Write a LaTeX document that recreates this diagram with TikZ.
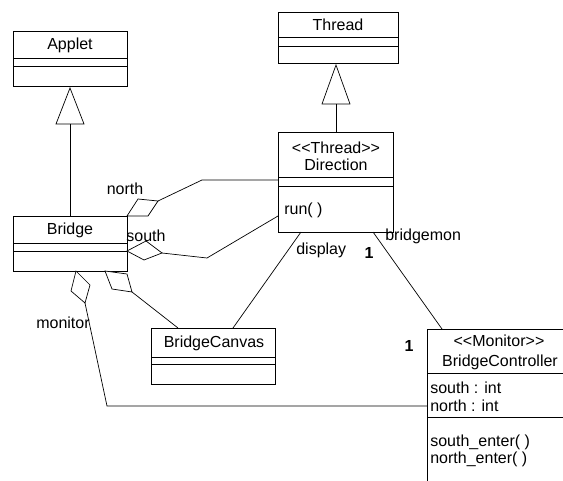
\documentclass[tikz,border=0pt]{standalone}
\usepackage{fontspec}
\setmainfont{Liberation Sans}
\begin{document}
\begin{tikzpicture}[x=1pt,y=-1pt, line width=0.7pt,
  box/.style={draw, rectangle, inner sep=0pt, outer sep=0pt, anchor=north west},
  txt/.style={inner sep=0pt, font=\fontsize{16}{18}\selectfont},
  ltxt/.style={txt, anchor=west},
  mult/.style={txt, font=\fontsize{16}{18}\selectfont\bfseries},
  conn/.style={draw, line join=miter},
  diam/.style={draw, fill=white, line join=miter},
  gen/.style={draw, fill=white, line join=miter}]
\useasboundingbox (0,0) rectangle (563,481);

% ---- class boxes ----
\node[box, minimum width=114pt, minimum height=55pt] (applet) at (13,31) {};
\draw (applet.west |- 0,58) -- (applet.east |- 0,58);
\draw (applet.west |- 0,66) -- (applet.east |- 0,66);
\node[txt] (appletname) at (70,45) {Applet};

\node[box, minimum width=120pt, minimum height=51pt] (thread) at (278,12) {};
\draw (thread.west |- 0,37) -- (thread.east |- 0,37);
\draw (thread.west |- 0,46) -- (thread.east |- 0,46);
\node[txt] (threadname) at (338,25) {Thread};

\node[box, minimum width=115pt, minimum height=100pt] (direction) at (278,132) {};
\draw (direction.west |- 0,177) -- (direction.east |- 0,177);
\draw (direction.west |- 0,186) -- (direction.east |- 0,186);
\node[txt] (dirster) at (336,148) {<{}<Thread>{}>};
\node[txt] (dirname) at (336,165) {Direction};
\node[ltxt] (dirrun) at (284,210) {run( )};

\node[box, minimum width=114pt, minimum height=55pt] (bridge) at (13,216) {};
\draw (bridge.west |- 0,243) -- (bridge.east |- 0,243);
\draw (bridge.west |- 0,251) -- (bridge.east |- 0,251);
\node[txt] (bridgename) at (70,230) {Bridge};

\node[box, minimum width=124pt, minimum height=56pt] (canvas) at (151,328) {};
\draw (canvas.west |- 0,357) -- (canvas.east |- 0,357);
\draw (canvas.west |- 0,364) -- (canvas.east |- 0,364);
\node[txt] (canvasname) at (214,343) {BridgeCanvas};

\node[box, minimum width=146pt, minimum height=200pt] (ctrl) at (427,329) {};
\draw (ctrl.west |- 0,373) -- (ctrl.east |- 0,373);
\draw (ctrl.west |- 0,417) -- (ctrl.east |- 0,417);
\node[txt] (ctrlster) at (499,341) {<{}<Monitor>{}>};
\node[txt] (ctrlname) at (500,362) {BridgeController};
\node[ltxt] (ctrla1) at (430,388) {south : int};
\node[ltxt] (ctrla2) at (430,406) {north : int};
\node[ltxt] (ctrlo1) at (430,442) {south\_enter( )};
\node[ltxt] (ctrlo2) at (430,459) {north\_enter( )};

% ---- generalizations ----
\coordinate (ga) at (70,88);
\draw[gen] (ga) -- (84,124) -- (56,124) -- cycle;
\draw[conn] (70,124) -- (bridge.north -| 70,0);

\coordinate (gt) at (336,65);
\draw[gen] (gt) -- (350,104) -- (322,104) -- cycle;
\draw[conn] (336,104) -- (direction.north -| 336,0);

% ---- north ----
\coordinate (n1) at (158,201);
\coordinate (n2) at (202,180);
\draw[diam] (bridge.north east) -- (138,199) -- (n1) -- (148,216) -- cycle;
\draw[conn] (n1) -- (n2) -- (n2 -| direction.west);
\node[txt] (northlbl) at (125,189) {north};

% ---- south ----
\coordinate (sb) at (127,251);
\coordinate (s1) at (162,253);
\coordinate (s2) at (207,258);
\coordinate (sd) at (278,216);
\draw[diam] (sb) -- (146,241) -- (s1) -- (144,260) -- cycle;
\draw[conn] (s1) -- (s2) -- (sd);
\node[txt] (southlbl) at (146,236) {south};

% ---- monitor ----
\coordinate (mb) at (76,271);
\coordinate (m1) at (85,303);
\coordinate (m2) at (107,406);
\draw[diam] (mb) -- (90,285) -- (m1) -- (71,291) -- cycle;
\draw[conn] (m1) -- (m2) -- (m2 -| ctrl.west);
\node[txt] (monlbl) at (63,323) {monitor};

% ---- canvas from bridge ----
\coordinate (cb) at (105,271);
\coordinate (c1) at (132,292);
\coordinate (ct) at (178,328);
\draw[diam] (cb) -- (127,274) -- (c1) -- (112,289) -- cycle;
\draw[conn] (c1) -- (ct);

% ---- display ----
\coordinate (d1) at (301,232);
\coordinate (d2) at (233,328);
\draw[conn] (d1) -- (d2);
\node[ltxt] (displbl) at (296,250) {display};

% ---- bridgemon ----
\coordinate (b1) at (373,232);
\coordinate (b2) at (442,329);
\draw[conn] (b1) -- (b2);
\node[ltxt] (bmlbl) at (385,236) {bridgemon};
\node[mult] (one1) at (369,253) {1};
\node[mult] (one2) at (409,346) {1};
\end{tikzpicture}
\end{document}
